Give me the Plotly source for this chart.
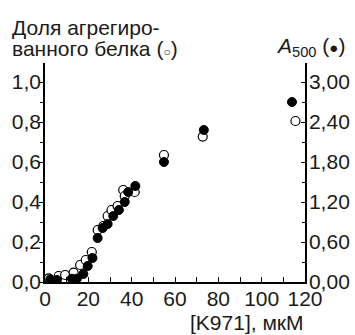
import plotly.graph_objects as go

# Open circles: fraction of aggregated protein (left axis)
x_open = [1.7, 6.3, 9.3, 13.2, 16.2, 18.8, 21.6, 24.3, 26.9, 28.9, 30.7, 33.5, 36.1, 36.8, 41.4, 54.9, 72.8, 115.6]
frac_open = [0.018, 0.03, 0.035, 0.047, 0.085, 0.11, 0.15, 0.26, 0.28, 0.33, 0.36, 0.38, 0.46, 0.43, 0.45, 0.635, 0.727, 0.805]

# Filled circles: A500 (right axis)
x_fill = [2.4, 5.5, 12.4, 14.7, 17.7, 19.7, 21.9, 24.3, 26.6, 28.9, 31.5, 34.1, 36.8, 38.4, 41.7, 54.9, 73.3, 114.0]
a500_fill = [0.04, 0.03, 0.05, 0.05, 0.12, 0.24, 0.36, 0.66, 0.81, 0.87, 0.99, 1.08, 1.20, 1.35, 1.44, 1.80, 2.28, 2.70]

left_ticks = [0.0, 0.2, 0.4, 0.6, 0.8, 1.0]
right_ticks = [0.0, 0.6, 1.2, 1.8, 2.4, 3.0]
x_ticks = [0, 20, 40, 60, 80, 100, 120]

FONT = "Liberation Sans, Arial, sans-serif"
fs = 21

fig = go.Figure()
fig.add_trace(go.Scatter(
    x=x_open, y=frac_open, mode="markers", yaxis="y",
    marker=dict(symbol="circle", size=9, color="white", line=dict(color="black", width=1.2)),
    showlegend=False))
fig.add_trace(go.Scatter(
    x=x_fill, y=a500_fill, mode="markers", yaxis="y2",
    marker=dict(symbol="circle", size=9, color="black", line=dict(color="black", width=1)),
    showlegend=False))

fig.update_layout(
    width=355, height=335,
    margin=dict(l=45, r=50, t=63, b=53, autoexpand=False),
    paper_bgcolor="white", plot_bgcolor="white",
    separators=", ",
    font=dict(family=FONT, size=fs, color="#1a1a1a"),
    xaxis=dict(range=[0, 120], tickvals=x_ticks, showgrid=False, zeroline=False,
               showline=True, linecolor="black", linewidth=1.5,
               ticks="inside", ticklen=5, tickcolor="black",
               ticklabelstandoff=-3,
               minor=dict(dtick=10, ticks="inside", ticklen=5, tickcolor="black"),
               tickfont=dict(size=fs)),
    yaxis=dict(range=[0, 1.095], tickvals=left_ticks, tickformat=".1f",
               showgrid=False, zeroline=False,
               showline=True, linecolor="black", linewidth=1.5,
               ticks="outside", ticklen=4, tickcolor="black",
               ticklabelstandoff=-6,
               minor=dict(dtick=0.1, ticks="outside", ticklen=3, tickcolor="black"),
               tickfont=dict(size=fs)),
    yaxis2=dict(range=[0, 3.285], tickvals=right_ticks, tickformat=".2f",
                overlaying="y", side="right",
                showgrid=False, zeroline=False,
                showline=True, linecolor="black", linewidth=1.5,
                ticks="inside", ticklen=4, tickcolor="black",
                ticklabelstandoff=-2,
                minor=dict(dtick=0.3, ticks="inside", ticklen=3, tickcolor="black"),
                tickfont=dict(size=fs)),
)

fig.add_annotation(xref="paper", yref="paper", x=-0.135, y=1.162, xanchor="left", yanchor="middle",
                   text="Доля агрегиро-", showarrow=False, font=dict(size=fs, family=FONT), align="left")
fig.add_annotation(xref="paper", yref="paper", x=-0.135, y=1.064, xanchor="left", yanchor="middle",
                   text="ванного белка (<span style='font-size:12px'>○</span>)", showarrow=False,
                   font=dict(size=fs, family=FONT), align="left")
fig.add_annotation(xref="paper", yref="paper", x=1.16, y=1.072, xanchor="right", yanchor="middle",
                   text="<i>A</i><sub>500</sub> (<span style='font-size:15px'>●</span>)", showarrow=False,
                   font=dict(size=fs, family=FONT), align="right")
fig.add_annotation(xref="paper", yref="paper", x=1.005, y=-0.183, xanchor="right", yanchor="middle",
                   text="[K971], мкМ", showarrow=False, font=dict(size=fs, family=FONT))

fig.write_html("out.html")
